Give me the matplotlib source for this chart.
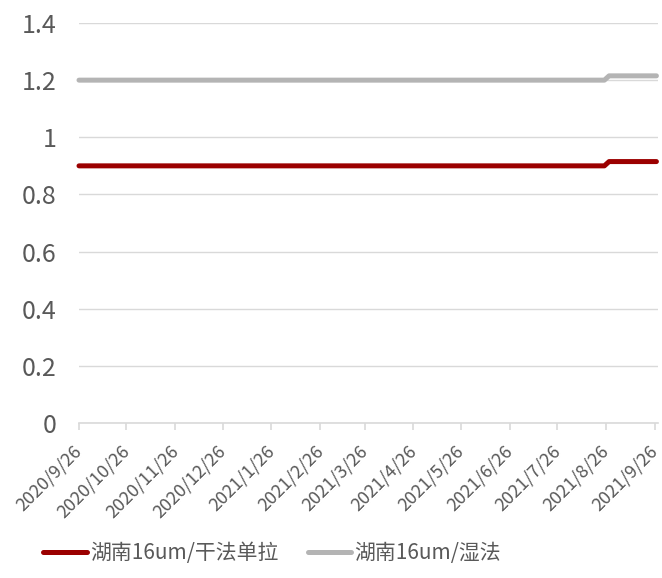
import matplotlib
matplotlib.use('Agg')
import matplotlib.pyplot as plt
import matplotlib.transforms as mtransforms
import pandas as pd

plt.rcParams['font.family'] = ['Noto Sans CJK SC', 'DejaVu Sans']

# 隔膜价格(元/平方米)
dates = ['2020-09-26', '2021-08-25', '2021-08-28', '2021-09-27']
dry_single = [0.9, 0.9, 0.915, 0.915]   # 湖南16um/干法单拉
wet = [1.2, 1.2, 1.215, 1.215]          # 湖南16um/湿法
tick_dates = pd.date_range('2020-09-01', '2021-09-01', freq='MS') + pd.Timedelta(days=25)
y_ticks = [0, 0.2, 0.4, 0.6, 0.8, 1.0, 1.2, 1.4]
y_labels = ['0', '0.2', '0.4', '0.6', '0.8', '1', '1.2', '1.4']

x = pd.to_datetime(dates)

fig = plt.figure(figsize=(6.62, 5.78), dpi=100)
ax = fig.add_axes([79/662, 1-423/578, (658-79)/662, 400/578])

ax.plot(x, dry_single, color='#9B0000', lw=3.6, solid_capstyle='round',
        clip_on=False, label='湖南16um/干法单拉', zorder=3)
ax.plot(x, wet, color='#B4B4B4', lw=3.6, solid_capstyle='round',
        clip_on=False, label='湖南16um/湿法', zorder=3)

ax.set_ylim(0, 1.4)
ax.set_xlim(pd.Timestamp('2020-09-26'), pd.Timestamp('2021-09-28'))
ax.set_yticks(y_ticks)
ax.set_yticklabels(y_labels)
ax.grid(axis='y', color='#D9D9D9', lw=1)
ax.set_axisbelow(True)

for s in ['top', 'right', 'left']:
    ax.spines[s].set_visible(False)
ax.spines['bottom'].set_color('#D9D9D9')
ax.spines['bottom'].set_linewidth(1.2)

ax.set_xticks(tick_dates)
ax.set_xticklabels([f'{d.year}/{d.month}/{d.day}' for d in tick_dates],
                   rotation=45, ha='right', va='top', rotation_mode='anchor')
ax.tick_params(axis='x', length=5, width=1.2, color='#D9D9D9',
               labelsize=13, labelcolor='#595959', pad=9)
ax.tick_params(axis='y', length=0, labelsize=18, labelcolor='#595959', pad=16)

# 日期标签整体略向左移
shift = mtransforms.ScaledTranslation(-6/100, 0, fig.dpi_scale_trans)
for lbl in ax.get_xticklabels():
    lbl.set_transform(lbl.get_transform() + shift)

fig.legend(loc='center', bbox_to_anchor=(0.411, 0.043), ncol=2, frameon=False,
           fontsize=15, handlelength=2.1, handletextpad=0.15, columnspacing=1.4,
           labelcolor='#595959')

fig.savefig('out.png', dpi=100)
